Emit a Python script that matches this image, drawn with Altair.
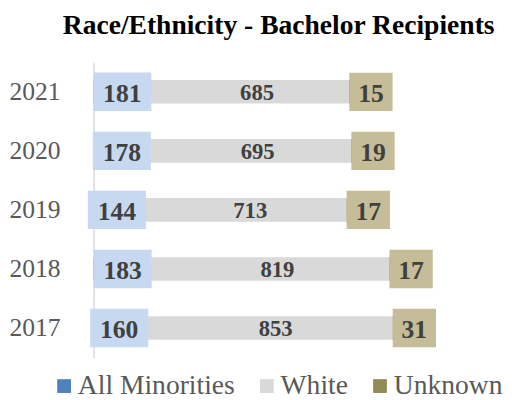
import altair as alt
import pandas as pd

years = ["2021", "2020", "2019", "2018", "2017"]
minorities = [181, 178, 144, 183, 160]
white = [685, 695, 713, 819, 853]
unknown = [15, 19, 17, 17, 31]
categories = ["All Minorities", "White", "Unknown"]
bar_colors = ["#4f81bd", "#d9d9d9", "#948a54"]
box_blue = "#c6d9f1"
box_tan = "#c4bd97"

rows = []
for yr, m, w, u in zip(years, minorities, white, unknown):
    start = 0
    for cat, v in zip(categories, [m, w, u]):
        rows.append(dict(year=yr, category=cat, value=v, start=start,
                         end=start + v, mid=start + v / 2))
        start += v
df = pd.DataFrame(rows)

FONT = "Liberation Serif"
xscale = alt.Scale(domain=[0, 1340])
Y = alt.Y("year:N", sort=years,
          scale=alt.Scale(paddingInner=0, paddingOuter=0),
          axis=alt.Axis(title=None, labelFontSize=26, labelFont=FONT,
                        labelColor="#595959", ticks=False, labelPadding=34,
                        domainColor="#d9d9d9", domainWidth=1.5, grid=False))

base = alt.Chart(df)

bars = base.mark_bar(size=24).encode(
    x=alt.X("start:Q", scale=xscale, axis=None),
    x2="end:Q",
    y=Y,
    color=alt.Color("category:N",
                    scale=alt.Scale(domain=categories, range=bar_colors),
                    legend=alt.Legend(orient="none", legendX=-44, legendY=315,
                                      direction="horizontal", title=None,
                                      symbolType="square", symbolSize=196,
                                      symbolStrokeWidth=0, symbolOpacity=1,
                                      labelFontSize=28, labelFont=FONT,
                                      labelColor="#595959", labelOffset=0,
                                      columnPadding=18)),
)

blue_path = "M-1,-0.661L1,-0.661L1,0.661L-1,0.661Z"
tan_path = "M-1,-0.886L1,-0.886L1,0.886L-1,0.886Z"

blue_box = base.transform_filter(alt.datum.category == "All Minorities").mark_point(
    shape=blue_path, filled=True, size=59 * 59, color=box_blue, opacity=1,
    strokeWidth=0, xOffset=2
).encode(x=alt.X("mid:Q", scale=xscale), y=Y)

tan_box = base.transform_filter(alt.datum.category == "Unknown").mark_point(
    shape=tan_path, filled=True, size=44 * 44, color=box_tan, opacity=1,
    strokeWidth=0, xOffset=22
).encode(x=alt.X("start:Q", scale=xscale), y=Y)

blue_text = base.transform_filter(alt.datum.category == "All Minorities").mark_text(
    font=FONT, fontSize=26, fontWeight="bold", color="#404040", xOffset=2, dy=2
).encode(x=alt.X("mid:Q", scale=xscale), y=Y, text="value:Q")

white_text = base.transform_filter(alt.datum.category == "White").mark_text(
    font=FONT, fontSize=23, fontWeight="bold", color="#404040", xOffset=9, dy=1
).encode(x=alt.X("mid:Q", scale=xscale), y=Y, text="value:Q")

tan_text = base.transform_filter(alt.datum.category == "Unknown").mark_text(
    font=FONT, fontSize=26, fontWeight="bold", color="#404040", xOffset=22, dy=2
).encode(x=alt.X("start:Q", scale=xscale), y=Y, text="value:Q")

chart = alt.layer(bars, blue_box, tan_box, blue_text, white_text, tan_text).properties(
    width=402, height=300,
    title=alt.TitleParams("Race/Ethnicity - Bachelor Recipients", font=FONT,
                          fontSize=28, fontWeight="bold", color="black",
                          anchor="middle", frame="group", dx=-13, offset=23),
    autosize=alt.AutoSizeParams(type="none"),
    padding={"left": 87, "top": 52, "right": 15, "bottom": 40},
).configure_view(stroke=None)

chart.save("out.html", embed_options={"renderer": "svg", "actions": False})
